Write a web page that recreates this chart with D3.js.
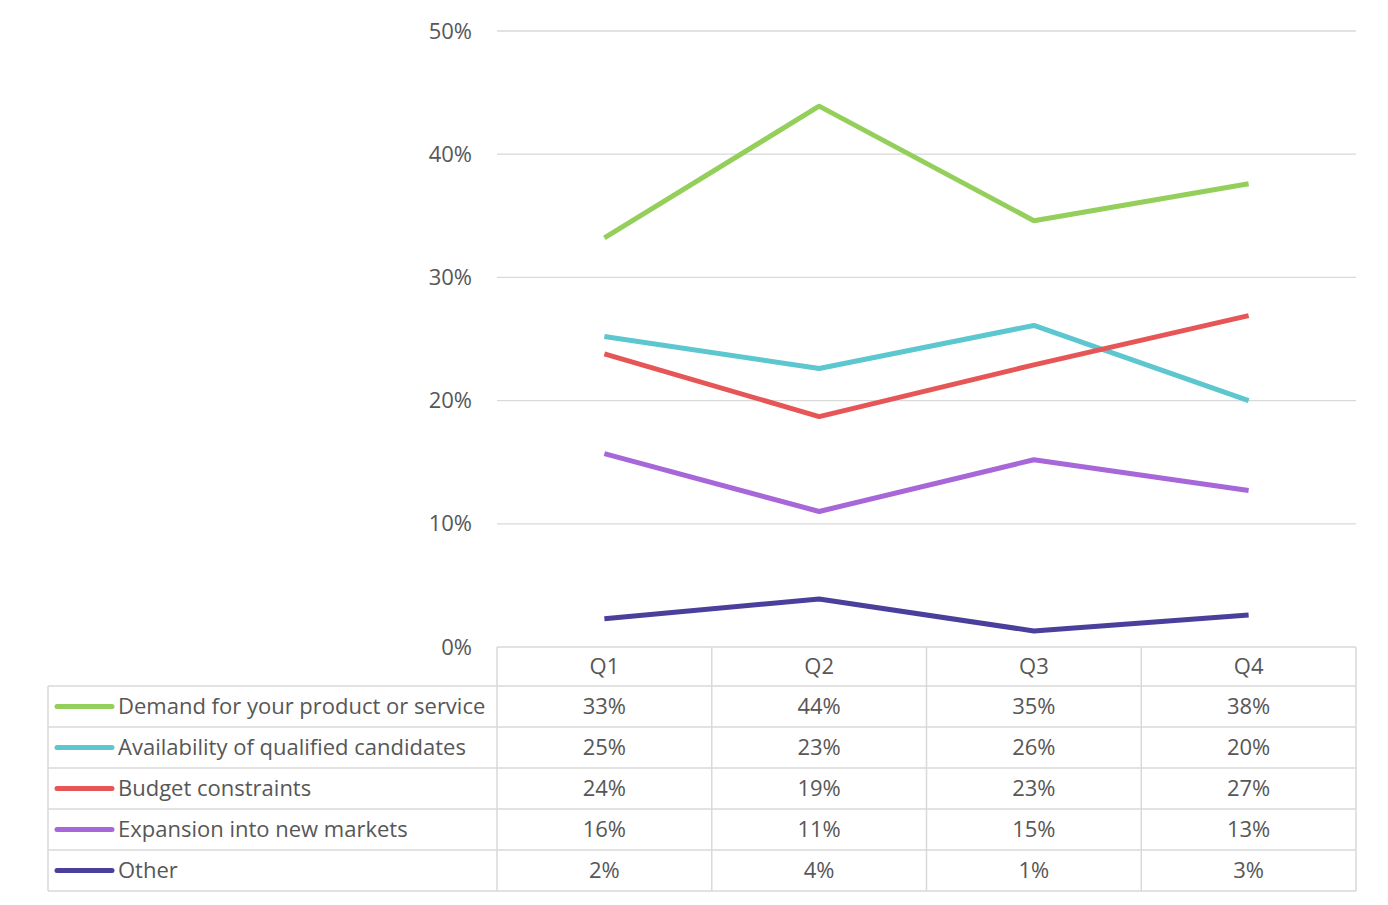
<!DOCTYPE html>
<html><head><meta charset="utf-8">
<script src="https://cdn.jsdelivr.net/npm/d3@7"></script>
<style>body{margin:0;background:#fff;}svg{display:block;font-family:"Open Sans",sans-serif;}</style>
</head><body><svg id="c" width="1388" height="905"></svg>
<script>
const quarters = ["Q1","Q2","Q3","Q4"];
const seriesNames = ["Demand for your product or service","Availability of qualified candidates","Budget constraints","Expansion into new markets","Other"];
const demand = [33.2, 43.9, 34.6, 37.6];
const availability = [25.2, 22.6, 26.1, 20.0];
const budget = [23.8, 18.7, 22.9, 26.9];
const expansion = [15.7, 11.0, 15.2, 12.7];
const other = [2.3, 3.9, 1.3, 2.6];
const yTicks = [0,10,20,30,40,50];
const colors = ["#95cf5b","#5cc7cf","#e65657","#a767d8","#4b3f9c"];
const series = [demand, availability, budget, expansion, other];

const svg = d3.select("#c");
const L = 497, R = 1356, T = 31, B = 647;
const fs = 22;
const x = d3.scaleBand().domain(quarters).range([L, R]);
const y = d3.scaleLinear().domain([0,50]).range([B, T]);
const txt = "#575757", grid = "#d9d9d9";

// gridlines
svg.append("g").selectAll("line").data(yTicks.filter(t=>t>0)).join("line")
  .attr("x1", L).attr("x2", R).attr("y1", d=>y(d)).attr("y2", d=>y(d))
  .attr("stroke", grid).attr("stroke-width", 1.3);
// y labels
svg.append("g").selectAll("text").data(yTicks).join("text")
  .attr("x", 472).attr("y", d=>y(d)+7.5).attr("text-anchor","end")
  .attr("font-size", fs).attr("fill", txt).text(d=>d+"%");

// lines
const line = d3.line().x((d,i)=>x(quarters[i])+x.bandwidth()/2).y(d=>y(d));
svg.append("g").selectAll("path").data(series).join("path")
  .attr("d", line).attr("fill","none").attr("stroke",(d,i)=>colors[i])
  .attr("stroke-width", 5).attr("stroke-linejoin","round").attr("stroke-linecap","butt");

// table
const headTop = B, headBot = 686, rowH = 41;
const rowY = i => headBot + i*rowH;
const tg = svg.append("g");
const tableBottom = rowY(series.length);
tg.append("line").attr("x1",L).attr("x2",R).attr("y1",headTop).attr("y2",headTop);
for (let i=0;i<=series.length;i++){
  tg.append("line").attr("x1",48).attr("x2",R).attr("y1",rowY(i)).attr("y2",rowY(i));
}
tg.append("line").attr("x1",48).attr("x2",48).attr("y1",headBot).attr("y2",tableBottom);
[L].concat(quarters.map(q=>x(q)+x.bandwidth())).forEach(v=>{
  tg.append("line").attr("x1",v).attr("x2",v).attr("y1",headTop).attr("y2",tableBottom);
});
tg.selectAll("line").attr("stroke", grid).attr("stroke-width", 1.5);

// header
svg.append("g").selectAll("text").data(quarters).join("text")
  .attr("x", d=>x(d)+x.bandwidth()/2).attr("y", (headTop+headBot)/2+7.5)
  .attr("text-anchor","middle").attr("font-size",fs).attr("fill",txt).text(d=>d);

// rows
series.forEach((s,i)=>{
  const cy = rowY(i)+rowH/2;
  const g = svg.append("g");
  g.append("line").attr("x1",57).attr("x2",112).attr("y1",cy).attr("y2",cy)
    .attr("stroke",colors[i]).attr("stroke-width",5).attr("stroke-linecap","round");
  g.append("text").attr("x",118).attr("y",cy+7.5).attr("font-size",fs).attr("fill",txt).text(seriesNames[i]);
  g.selectAll("text.v").data(s).join("text").attr("class","v")
    .attr("x",(d,j)=>x(quarters[j])+x.bandwidth()/2).attr("y",cy+7.5)
    .attr("text-anchor","middle").attr("font-size",fs).attr("fill",txt)
    .text(d=>Math.round(d)+"%");
});
</script></body></html>
